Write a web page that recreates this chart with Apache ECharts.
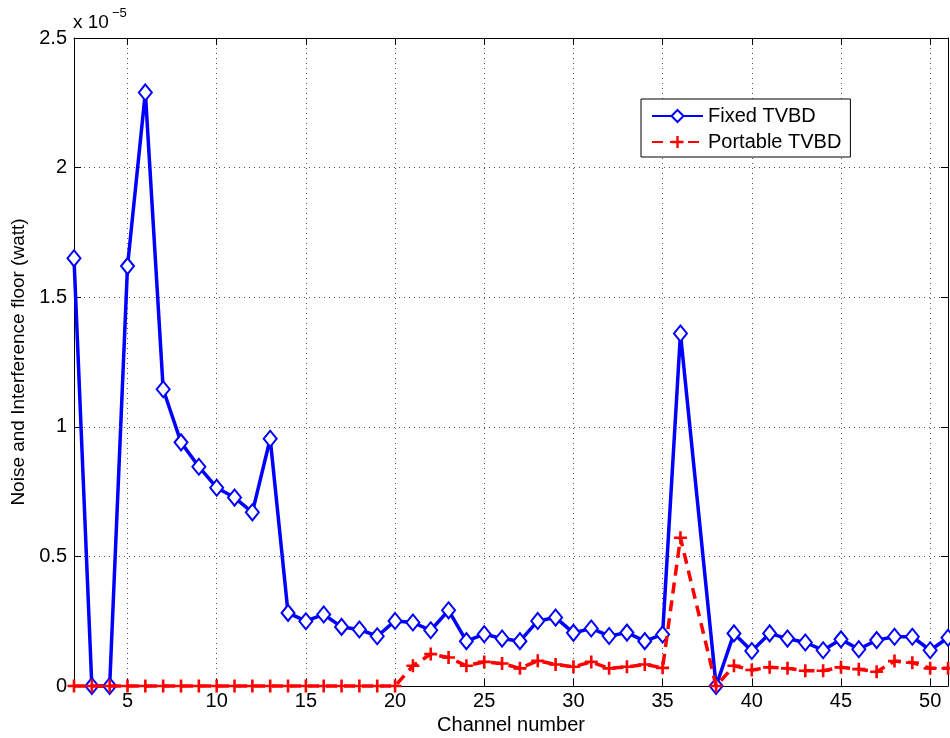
<!DOCTYPE html>
<html>
<head>
<meta charset="utf-8">
<script src="https://cdn.jsdelivr.net/npm/echarts@6/dist/echarts.min.js"></script>
<style>
  html, body { margin: 0; padding: 0; background: #fff; }
  #chart { width: 950px; height: 738px; }
</style>
</head>
<body>
<div id="chart"></div>
<script>
// values in units of 1e-5 watt (channel 37 has no sample)
const channels = [2,3,4,5,6,7,8,9,10,11,12,13,14,15,16,17,18,19,20,21,22,23,24,25,26,27,28,29,30,31,32,33,34,35,36,38,39,40,41,42,43,44,45,46,47,48,49,50,51];
const fixedTvbd = [1.65,0,0,1.62,2.29,1.145,0.94,0.846,0.765,0.727,0.67,0.954,0.282,0.25,0.276,0.228,0.218,0.192,0.251,0.245,0.215,0.292,0.173,0.2,0.183,0.173,0.251,0.264,0.205,0.222,0.193,0.206,0.173,0.199,1.36,0,0.203,0.135,0.203,0.183,0.168,0.138,0.18,0.142,0.177,0.19,0.19,0.138,0.186];
const portableTvbd = [0,0,0,0,0,0,0,0,0,0,0,0,0,0,0,0,0,0,0,0.078,0.123,0.11,0.078,0.093,0.087,0.068,0.097,0.083,0.074,0.093,0.068,0.074,0.083,0.07,0.572,0,0.078,0.062,0.072,0.068,0.059,0.059,0.072,0.065,0.055,0.096,0.09,0.068,0.068];
const xTicks = [5,10,15,20,25,30,35,40,45,50];

const font = 'Liberation Sans, Arial, sans-serif';
const plusPath = 'path://M4,0h2v4h4v2h-4v4h-2v-4h-4v-2h4z';

const chart = echarts.init(document.getElementById('chart'));

const baseX = {
    type: 'value', min: 2, max: 51,
    axisLine: { show: true, onZero: false, lineStyle: { color: '#000', width: 1 } },
    axisTick: { show: true, inside: true, length: 7, customValues: xTicks, lineStyle: { color: '#000' } },
    splitLine: { show: false }
};
const baseY = {
    type: 'value', min: 0, max: 2.5, interval: 0.5,
    axisLine: { show: true, onZero: false, lineStyle: { color: '#000', width: 1 } },
    axisTick: { show: true, inside: true, length: 7, lineStyle: { color: '#000' } },
    splitLine: { show: false }
};

chart.setOption({
    animation: false,
    grid: { left: 74, right: 2, top: 38, bottom: 52, containLabel: false, outerBoundsMode: 'none' },
    legend: {
        left: 641, top: 99,
        orient: 'vertical',
        backgroundColor: '#fff',
        borderColor: '#000', borderWidth: 1,
        padding: [7, 9, 5, 10],
        itemGap: 6,
        itemWidth: 51, itemHeight: 15,
        textStyle: { fontFamily: font, fontSize: 20, color: '#000' },
        data: ['Fixed TVBD', 'Portable TVBD']
    },
    xAxis: [
        Object.assign({}, baseX, {
            position: 'bottom',
            name: 'Channel number', nameLocation: 'middle', nameGap: 26,
            nameTextStyle: { fontFamily: font, fontSize: 20, color: '#000' },
            axisLabel: { customValues: xTicks, fontFamily: font, fontSize: 20, color: '#000', margin: 5 },
            splitLine: { show: true, lineStyle: { color: '#555', type: [1, 4], width: 1 } }
        }),
        Object.assign({}, baseX, { position: 'top', axisLabel: { show: false } })
    ],
    yAxis: [
        Object.assign({}, baseY, {
            position: 'left',
            name: 'Noise and Interference floor (watt)', nameLocation: 'middle', nameGap: 45,
            nameTextStyle: { fontFamily: font, fontSize: 19, color: '#000' },
            axisLabel: { fontFamily: font, fontSize: 20, color: '#000', margin: 7,
                formatter: v => String(v) },
            splitLine: { show: true, lineStyle: { color: '#555', type: [1, 4], width: 1 } }
        }),
        Object.assign({}, baseY, { position: 'right', axisLabel: { show: false } })
    ],
    graphic: [
        { type: 'text', left: 73, top: 13, style: { text: 'x 10', fontFamily: font, fontSize: 19, fill: '#000' } },
        { type: 'text', left: 112, top: 7, style: { text: '−5', fontFamily: font, fontSize: 13, fill: '#000' } }
    ],
    series: [
        {
            name: 'Fixed TVBD', type: 'line',
            data: channels.map((c, i) => [c, fixedTvbd[i]]),
            clip: false,
            symbol: 'emptyDiamond', symbolSize: [13, 16],
            lineStyle: { color: '#0000ff', width: 3.5 },
            itemStyle: { color: '#0000ff', borderColor: '#0000ff', borderWidth: 3 },
            z: 2
        },
        {
            name: 'Portable TVBD', type: 'line',
            data: channels.map((c, i) => [c, portableTvbd[i]]),
            clip: false,
            symbol: plusPath, symbolSize: 13,
            lineStyle: { color: '#ff0000', width: 3.5, type: [11, 7] },
            itemStyle: { color: '#ff0000', borderWidth: 0 },
            z: 3
        }
    ]
});
</script>
</body>
</html>
